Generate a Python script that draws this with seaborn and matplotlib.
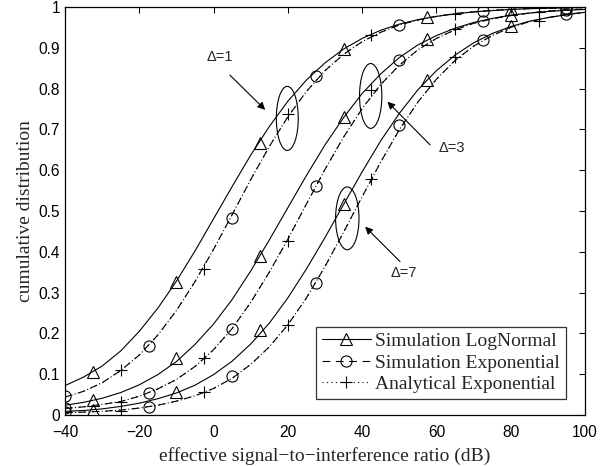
import numpy as np
import pandas as pd
import seaborn as sns
import matplotlib
matplotlib.use("Agg")
import matplotlib.pyplot as plt
from matplotlib.lines import Line2D
from matplotlib.patches import Ellipse

# ---------------- data ----------------
x_db = [-40, -35, -30, -25, -20, -15, -10, -5, 0, 5, 10, 15, 20, 25, 30,
        35, 40, 45, 50, 55, 60, 65, 70, 75, 80, 85, 90, 95, 100]

# Delta = 1
ln_d1 = [0.072, 0.093, 0.120, 0.157, 0.205, 0.262, 0.328, 0.402, 0.481, 0.560,
         0.637, 0.707, 0.769, 0.821, 0.863, 0.897, 0.923, 0.943, 0.958, 0.969,
         0.977, 0.983, 0.988, 0.991, 0.994, 0.996, 0.997, 0.998, 0.999]
ex_d1 = [0.044, 0.058, 0.079, 0.109, 0.147, 0.196, 0.256, 0.327, 0.406, 0.491,
         0.577, 0.658, 0.731, 0.793, 0.844, 0.884, 0.915, 0.938, 0.956, 0.968,
         0.977, 0.984, 0.988, 0.992, 0.994, 0.996, 0.997, 0.998, 0.999]
an_d1 = [0.044, 0.058, 0.079, 0.109, 0.147, 0.196, 0.256, 0.327, 0.406, 0.491,
         0.577, 0.658, 0.731, 0.793, 0.844, 0.884, 0.915, 0.938, 0.956, 0.968,
         0.977, 0.984, 0.988, 0.992, 0.994, 0.996, 0.997, 0.998, 0.999]
# Delta = 3
ln_d3 = [0.024, 0.031, 0.041, 0.055, 0.074, 0.099, 0.131, 0.173, 0.223, 0.283,
         0.353, 0.429, 0.508, 0.587, 0.662, 0.729, 0.788, 0.836, 0.876, 0.907,
         0.930, 0.948, 0.962, 0.972, 0.980, 0.985, 0.989, 0.992, 0.994]
ex_d3 = [0.016, 0.020, 0.026, 0.033, 0.046, 0.064, 0.087, 0.119, 0.160, 0.212,
         0.276, 0.350, 0.431, 0.517, 0.602, 0.681, 0.751, 0.810, 0.857, 0.895,
         0.923, 0.944, 0.960, 0.971, 0.979, 0.985, 0.990, 0.993, 0.995]
an_d3 = [0.016, 0.020, 0.026, 0.033, 0.046, 0.064, 0.087, 0.119, 0.160, 0.212,
         0.276, 0.350, 0.431, 0.517, 0.602, 0.681, 0.751, 0.810, 0.857, 0.895,
         0.923, 0.944, 0.960, 0.971, 0.979, 0.985, 0.990, 0.993, 0.995]
# Delta = 7
ln_d7 = [0.009, 0.011, 0.015, 0.021, 0.029, 0.040, 0.054, 0.073, 0.099, 0.132,
         0.174, 0.225, 0.287, 0.358, 0.435, 0.516, 0.596, 0.672, 0.739, 0.797,
         0.844, 0.882, 0.912, 0.935, 0.952, 0.965, 0.974, 0.981, 0.987]
ex_d7 = [0.006, 0.007, 0.009, 0.012, 0.017, 0.024, 0.034, 0.047, 0.065, 0.090,
         0.124, 0.167, 0.221, 0.287, 0.364, 0.448, 0.535, 0.620, 0.699, 0.767,
         0.823, 0.869, 0.904, 0.930, 0.950, 0.964, 0.974, 0.982, 0.987]
an_d7 = [0.006, 0.007, 0.009, 0.012, 0.017, 0.024, 0.034, 0.047, 0.065, 0.090,
         0.124, 0.167, 0.221, 0.287, 0.364, 0.448, 0.535, 0.620, 0.699, 0.767,
         0.823, 0.869, 0.904, 0.930, 0.950, 0.964, 0.974, 0.982, 0.987]

# marker positions
tri_x = [-32.5, -10, 12.5, 35, 57.5, 80]
tri_d1 = [0.106, 0.327, 0.666, 0.896, 0.976, 0.995]
tri_d3 = [0.037, 0.139, 0.390, 0.730, 0.921, 0.980]
tri_d7 = [0.013, 0.057, 0.208, 0.517, 0.821, 0.953]
cir_x = [-40, -17.5, 5, 27.5, 50, 72.5, 95]
cir_d1 = [0.046, 0.168, 0.483, 0.830, 0.955, 0.990, 0.998]
cir_d3 = [0.017, 0.055, 0.210, 0.561, 0.870, 0.966, 0.993]
cir_d7 = [0.007, 0.020, 0.096, 0.323, 0.710, 0.920, 0.982]
plus_x = [-25, -2.5, 20, 42.5, 65, 87.5]
plus_d1 = [0.111, 0.357, 0.738, 0.931, 0.983, 0.997]
plus_d3 = [0.031, 0.139, 0.427, 0.797, 0.945, 0.988]
plus_d7 = [0.011, 0.057, 0.220, 0.578, 0.877, 0.966]

x_ticks = [-40, -20, 0, 20, 40, 60, 80, 100]
y_ticks = [0, 0.1, 0.2, 0.3, 0.4, 0.5, 0.6, 0.7, 0.8, 0.9, 1.0]
y_tick_labels = ["0", "0.1", "0.2", "0.3", "0.4", "0.5", "0.6", "0.7", "0.8", "0.9", "1"]
legend_labels = ["Simulation LogNormal", "Simulation Exponential", "Analytical Exponential"]
delta_labels = ["\u0394=1", "\u0394=3", "\u0394=7"]

# ---------------- style ----------------
sns.set_style("white")
plt.rcParams["font.family"] = ["Liberation Sans", "DejaVu Sans"]
plt.rcParams["axes.unicode_minus"] = True

fig = plt.figure(figsize=(6.15, 4.66), dpi=100)
ax = fig.add_axes([65 / 615, 1 - 415 / 466, 520 / 615, 408 / 466])

LW = 0.8
MS = 8

for ln, ex, an in [(ln_d1, ex_d1, an_d1), (ln_d3, ex_d3, an_d3), (ln_d7, ex_d7, an_d7)]:
    sns.lineplot(x=x_db, y=ln, ax=ax, color="k", linestyle="-", linewidth=LW)
    sns.lineplot(x=x_db, y=ex, ax=ax, color="k", linewidth=LW, dashes=False,
                 linestyle=(0, (7, 5)))
    sns.lineplot(x=x_db, y=an, ax=ax, color="k", linewidth=LW, dashes=False,
                 linestyle=(3, (1, 3)))

for mx, my, mk in [(tri_x, tri_d1, "^"), (tri_x, tri_d3, "^"), (tri_x, tri_d7, "^"),
                   (cir_x, cir_d1, "o"), (cir_x, cir_d3, "o"), (cir_x, cir_d7, "o"),
                   (plus_x, plus_d1, "+"), (plus_x, plus_d3, "+"), (plus_x, plus_d7, "+")]:
    sns.lineplot(x=mx, y=my, ax=ax, linestyle="", marker=mk, markersize=MS,
                 markerfacecolor="none", markeredgecolor="k", markeredgewidth=LW,
                 color="k")

ax.set_xlim(-40, 100)
ax.set_ylim(0, 1)
ax.set_xticks(x_ticks)
ax.set_yticks(y_ticks)
ax.set_yticklabels(y_tick_labels)
ax.tick_params(direction="in", length=4.5, width=0.75, top=True, right=True,
               labelsize=11.2, colors="k")
ax.tick_params(axis="x", pad=7)
ax.tick_params(axis="y", pad=3.5)
for s in ax.spines.values():
    s.set_color("k")
    s.set_linewidth(0.9)

serif = ["Liberation Serif", "DejaVu Serif"]
ax.set_xlabel("effective signal\u2212to\u2212interference ratio (dB)",
              family=serif, fontsize=14, labelpad=5)
ax.set_ylabel("cumulative distribution", family=serif, fontsize=14, labelpad=3)

# ellipses & annotations
for (cx, cy, w, h) in [(19.85, 0.727, 5.9, 0.157), (42.3, 0.782, 6.0, 0.159),
                       (36.0, 0.482, 6.3, 0.154)]:
    ax.add_patch(Ellipse((cx, cy), w, h, fill=False, edgecolor="k", linewidth=LW))

arrow = dict(arrowstyle="-|>", color="k", lw=LW, mutation_scale=11, shrinkA=0, shrinkB=0)
ax.annotate("", xy=(13.9, 0.748), xytext=(4.4, 0.833), arrowprops=arrow)
ax.annotate("", xy=(46.8, 0.768), xytext=(58.3, 0.662), arrowprops=arrow)
ax.annotate("", xy=(40.8, 0.4615), xytext=(50.2, 0.376), arrowprops=arrow)
ax.text(1.7, 0.877, delta_labels[0], ha="center", va="center", fontsize=10.5)
ax.text(64.1, 0.654, delta_labels[1], ha="center", va="center", fontsize=10.5)
ax.text(51.3, 0.347, delta_labels[2], ha="center", va="center", fontsize=10.5)

handles = [
    Line2D([], [], color="k", linestyle="-", linewidth=LW, marker="^", markersize=MS,
           markerfacecolor="none", markeredgecolor="k", markeredgewidth=LW),
    Line2D([], [], color="k", linestyle=(0, (7, 5)), linewidth=LW, marker="o", markersize=MS,
           markerfacecolor="none", markeredgecolor="k", markeredgewidth=LW),
    Line2D([], [], color="k", linestyle=(0, (1, 3)), linewidth=LW, marker="+", markersize=MS,
           markerfacecolor="none", markeredgecolor="k", markeredgewidth=LW),
]
leg = ax.legend(handles, legend_labels, loc="lower right",
                bbox_to_anchor=((566 - 65) / 520, (415 - 399) / 408),
                borderaxespad=0, frameon=True, fancybox=False, numpoints=1,
                handlelength=2.5, handletextpad=0.25, labelspacing=0.2,
                borderpad=0.3, prop={"family": serif, "size": 14})
leg.get_frame().set_edgecolor("k")
leg.get_frame().set_linewidth(0.9)

fig.savefig("out.png", dpi=100)
